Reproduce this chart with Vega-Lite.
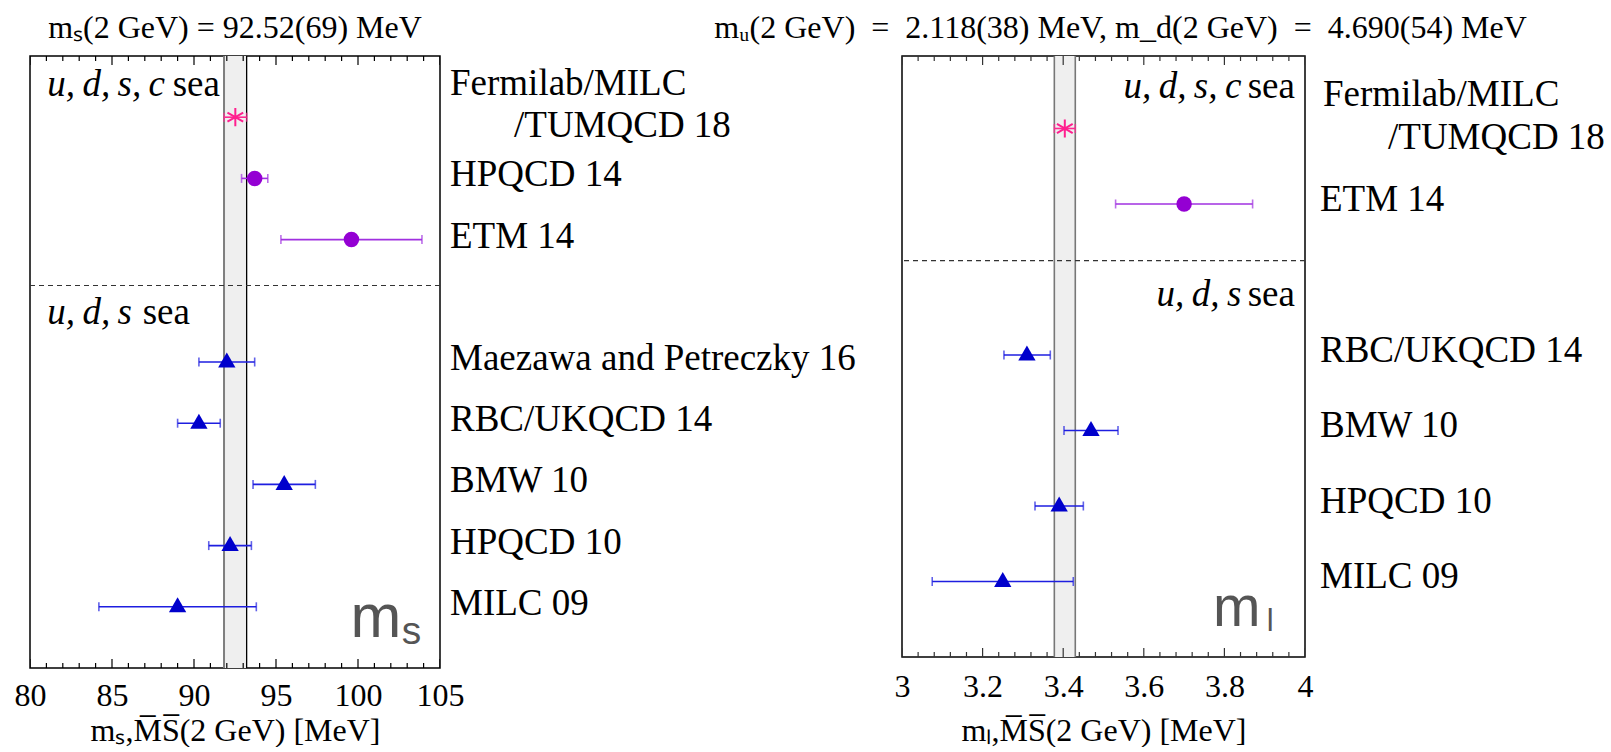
{
  "$schema": "https://vega.github.io/schema/vega-lite/v6.json",
  "background": "white",
  "padding": {"left": 13, "top": 11, "right": 0, "bottom": 0},
  "bounds": "flush",
  "spacing": 462,
  "config": {
    "font": "Liberation Serif",
    "view": {"stroke": "black", "strokeWidth": 1.5},
    "title": {"font": "Liberation Serif", "fontWeight": "normal", "color": "black"},
    "axis": {
      "labelOverlap": false, "labelFlush": false, "labelBound": false,
      "domain": false, "ticks": false, "grid": false,
      "labelFont": "Liberation Serif", "labelFontSize": 32, "labelColor": "black",
      "titleFont": "Liberation Serif", "titleFontSize": 32, "titleFontWeight": "normal", "titleColor": "black"
    }
  },
  "datasets": {
    "ms_pts": [
      {"name": "Fermilab/MILC/TUMQCD 18", "row": 1, "val": 92.52, "lo": 91.83, "hi": 93.21, "kind": "star"},
      {"name": "HPQCD 14", "row": 2, "val": 93.7, "lo": 92.9, "hi": 94.5, "kind": "circle"},
      {"name": "ETM 14", "row": 3, "val": 99.6, "lo": 95.3, "hi": 103.9, "kind": "circle"},
      {"name": "Maezawa and Petreczky 16", "row": 5, "val": 92.0, "lo": 90.3, "hi": 93.7, "kind": "triangle"},
      {"name": "RBC/UKQCD 14", "row": 6, "val": 90.3, "lo": 89.0, "hi": 91.6, "kind": "triangle"},
      {"name": "BMW 10", "row": 7, "val": 95.5, "lo": 93.6, "hi": 97.4, "kind": "triangle"},
      {"name": "HPQCD 10", "row": 8, "val": 92.2, "lo": 90.9, "hi": 93.5, "kind": "triangle"},
      {"name": "MILC 09", "row": 9, "val": 89.0, "lo": 84.2, "hi": 93.8, "kind": "triangle"}
    ],
    "ml_pts": [
      {"name": "Fermilab/MILC/TUMQCD 18", "row": 1, "val": 3.404, "lo": 3.378, "hi": 3.43, "kind": "star"},
      {"name": "ETM 14", "row": 2, "val": 3.70, "lo": 3.53, "hi": 3.87, "kind": "circle"},
      {"name": "RBC/UKQCD 14", "row": 4, "val": 3.31, "lo": 3.253, "hi": 3.368, "kind": "triangle"},
      {"name": "BMW 10", "row": 5, "val": 3.469, "lo": 3.402, "hi": 3.536, "kind": "triangle"},
      {"name": "HPQCD 10", "row": 6, "val": 3.39, "lo": 3.33, "hi": 3.45, "kind": "triangle"},
      {"name": "MILC 09", "row": 7, "val": 3.25, "lo": 3.075, "hi": 3.425, "kind": "triangle"}
    ],
    "ms_band": [{"lo": 91.83, "hi": 93.21}],
    "ml_band": [{"lo": 3.378, "hi": 3.43}],
    "ms_major": [{"t": 80}, {"t": 85}, {"t": 90}, {"t": 95}, {"t": 100}, {"t": 105}],
    "ms_minor": [{"t": 81}, {"t": 82}, {"t": 83}, {"t": 84}, {"t": 86}, {"t": 87}, {"t": 88}, {"t": 89}, {"t": 91}, {"t": 92}, {"t": 93}, {"t": 94}, {"t": 96}, {"t": 97}, {"t": 98}, {"t": 99}, {"t": 101}, {"t": 102}, {"t": 103}, {"t": 104}],
    "ml_major": [{"t": 3}, {"t": 3.2}, {"t": 3.4}, {"t": 3.6}, {"t": 3.8}, {"t": 4}],
    "ml_minor": [{"t": 3.04}, {"t": 3.08}, {"t": 3.12}, {"t": 3.16}, {"t": 3.24}, {"t": 3.28}, {"t": 3.32}, {"t": 3.36}, {"t": 3.44}, {"t": 3.48}, {"t": 3.52}, {"t": 3.56}, {"t": 3.64}, {"t": 3.68}, {"t": 3.72}, {"t": 3.76}, {"t": 3.84}, {"t": 3.88}, {"t": 3.92}, {"t": 3.96}]
  },
  "hconcat": [
    {
      "width": 410,
      "height": 612,
      "title": {"text": "mₛ(2 GeV) = 92.52(69) MeV", "fontSize": 32, "offset": 10},
      "data": {"name": "ms_pts"},
      "layer": [
        {
          "data": {"name": "ms_band"},
          "mark": {"type": "rect", "color": "#efefef"},
          "encoding": {
            "x": {"field": "lo", "type": "quantitative", "scale": {"domain": [80, 105], "nice": false, "zero": false},
              "axis": {"orient": "bottom", "values": [80, 85, 90, 95, 100, 105],
                "domain": false, "ticks": false, "grid": false,
                "labelPadding": 12, "labelOverlap": false, "labelFlush": false, "labelBound": false,
                "title": "mₛ,M̅S̅(2 GeV) [MeV]", "titlePadding": 4}},
            "x2": {"field": "hi"}
          }
        },
        {
          "data": {"name": "ms_major"},
          "mark": {"type": "tick", "orient": "vertical", "size": 18, "thickness": 1.2, "color": "black", "clip": true, "opacity": 1},
          "encoding": {"x": {"field": "t", "type": "quantitative"}, "y": {"datum": 0, "type": "quantitative", "scale": {"domain": [0, 10], "reverse": true, "nice": false, "zero": false}, "axis": null}}
        },
        {
          "data": {"name": "ms_major"},
          "mark": {"type": "tick", "orient": "vertical", "size": 18, "thickness": 1.2, "color": "black", "clip": true, "opacity": 1},
          "encoding": {"x": {"field": "t", "type": "quantitative"}, "y": {"datum": 10, "type": "quantitative", "axis": null}}
        },
        {
          "data": {"name": "ms_minor"},
          "mark": {"type": "tick", "orient": "vertical", "size": 10, "thickness": 1.2, "color": "black", "clip": true, "opacity": 1},
          "encoding": {"x": {"field": "t", "type": "quantitative"}, "y": {"datum": 0, "type": "quantitative", "axis": null}}
        },
        {
          "data": {"name": "ms_minor"},
          "mark": {"type": "tick", "orient": "vertical", "size": 10, "thickness": 1.2, "color": "black", "clip": true, "opacity": 1},
          "encoding": {"x": {"field": "t", "type": "quantitative"}, "y": {"datum": 10, "type": "quantitative", "axis": null}}
        },
        {
          "data": {"name": "ms_band"},
          "mark": {"type": "rule", "color": "#7f7f7f", "strokeWidth": 2},
          "encoding": {"x": {"field": "lo", "type": "quantitative"}}
        },
        {
          "data": {"name": "ms_band"},
          "mark": {"type": "rule", "color": "black", "strokeWidth": 1.3},
          "encoding": {"x": {"field": "hi", "type": "quantitative"}}
        },
        {
          "data": {"values": [{}]},
          "mark": {"type": "rule", "color": "#333333", "strokeWidth": 1.2, "strokeDash": [5, 4]},
          "encoding": {"y": {"datum": 3.75, "type": "quantitative", "axis": null}}
        },
        {
          "mark": {"type": "rule", "strokeWidth": 1.6},
          "encoding": {
            "x": {"field": "lo", "type": "quantitative"},
            "x2": {"field": "hi"},
            "y": {"field": "row", "type": "quantitative", "axis": null},
            "stroke": {"field": "kind", "type": "nominal", "scale": {"domain": ["star", "circle", "triangle"], "range": ["#ff2a92", "#a030e0", "#1e1ee0"]}, "legend": null}
          }
        },
        {
          "mark": {"type": "tick", "orient": "vertical", "size": 9, "thickness": 1.6},
          "encoding": {
            "x": {"field": "lo", "type": "quantitative"},
            "y": {"field": "row", "type": "quantitative", "axis": null},
            "fill": {"field": "kind", "type": "nominal", "scale": {"domain": ["star", "circle", "triangle"], "range": ["#ff2a92", "#a030e0", "#1e1ee0"]}, "legend": null}
          }
        },
        {
          "mark": {"type": "tick", "orient": "vertical", "size": 9, "thickness": 1.6},
          "encoding": {
            "x": {"field": "hi", "type": "quantitative"},
            "y": {"field": "row", "type": "quantitative", "axis": null},
            "fill": {"field": "kind", "type": "nominal", "legend": null}
          }
        },
        {
          "transform": [{"filter": "datum.kind === 'star'"}],
          "mark": {"type": "point", "shape": "M0,-1L0,1M-0.866,-0.5L0.866,0.5M-0.866,0.5L0.866,-0.5", "filled": false, "size": 330, "strokeWidth": 2, "opacity": 1},
          "encoding": {
            "x": {"field": "val", "type": "quantitative"},
            "y": {"field": "row", "type": "quantitative", "axis": null},
            "color": {"field": "kind", "type": "nominal", "scale": {"domain": ["star", "circle", "triangle"], "range": ["#ff1f8f", "#9400d3", "#0000cc"]}, "legend": null}
          }
        },
        {
          "transform": [{"filter": "datum.kind === 'circle'"}],
          "mark": {"type": "point", "shape": "circle", "filled": true, "size": 240, "opacity": 1},
          "encoding": {
            "x": {"field": "val", "type": "quantitative"},
            "y": {"field": "row", "type": "quantitative", "axis": null},
            "color": {"field": "kind", "type": "nominal", "legend": null}
          }
        },
        {
          "transform": [{"filter": "datum.kind === 'triangle'"}],
          "mark": {"type": "point", "shape": "triangle-up", "filled": true, "size": 300, "opacity": 1, "yOffset": -2},
          "encoding": {
            "x": {"field": "val", "type": "quantitative"},
            "y": {"field": "row", "type": "quantitative", "axis": null},
            "color": {"field": "kind", "type": "nominal", "legend": null}
          }
        },
        {
          "transform": [{"filter": "datum.kind !== 'star'"}],
          "mark": {"type": "text", "align": "left", "baseline": "middle", "font": "Liberation Serif", "fontSize": 37, "color": "black", "dx": 10, "dy": -3},
          "encoding": {
            "x": {"datum": 105, "type": "quantitative"},
            "y": {"field": "row", "type": "quantitative", "axis": null},
            "text": {"field": "name"}
          }
        },
        {
          "transform": [{"filter": "datum.kind === 'star'"}],
          "mark": {"type": "text", "text": "Fermilab/MILC", "align": "left", "baseline": "middle", "font": "Liberation Serif", "fontSize": 37, "color": "black", "dx": 10, "dy": -33},
          "encoding": {
            "x": {"datum": 105, "type": "quantitative"},
            "y": {"field": "row", "type": "quantitative", "axis": null}
          }
        },
        {
          "transform": [{"filter": "datum.kind === 'star'"}],
          "mark": {"type": "text", "text": "/TUMQCD 18", "align": "left", "baseline": "middle", "font": "Liberation Serif", "fontSize": 37, "color": "black", "dx": 74, "dy": 9},
          "encoding": {
            "x": {"datum": 105, "type": "quantitative"},
            "y": {"field": "row", "type": "quantitative", "axis": null}
          }
        },
        {
          "data": {"values": [{}]},
          "mark": {"type": "text", "text": "u,\u2009d,\u2009s,\u2009c", "align": "left", "baseline": "alphabetic", "font": "Liberation Serif", "fontStyle": "italic", "fontSize": 37, "color": "black"},
          "encoding": {"x": {"datum": 81.05, "type": "quantitative"}, "y": {"datum": 0.657, "type": "quantitative", "axis": null}}
        },
        {
          "data": {"values": [{}]},
          "mark": {"type": "text", "text": "sea", "align": "left", "baseline": "alphabetic", "font": "Liberation Serif", "fontSize": 37, "color": "black"},
          "encoding": {"x": {"datum": 88.7, "type": "quantitative"}, "y": {"datum": 0.657, "type": "quantitative", "axis": null}}
        },
        {
          "data": {"values": [{}]},
          "mark": {"type": "text", "text": "u,\u2009d,\u2009s", "align": "left", "baseline": "alphabetic", "font": "Liberation Serif", "fontStyle": "italic", "fontSize": 37, "color": "black"},
          "encoding": {"x": {"datum": 81.05, "type": "quantitative"}, "y": {"datum": 4.38, "type": "quantitative", "axis": null}}
        },
        {
          "data": {"values": [{}]},
          "mark": {"type": "text", "text": "sea", "align": "left", "baseline": "alphabetic", "font": "Liberation Serif", "fontSize": 37, "color": "black"},
          "encoding": {"x": {"datum": 86.87, "type": "quantitative"}, "y": {"datum": 4.38, "type": "quantitative", "axis": null}}
        },
        {
          "data": {"values": [{}]},
          "mark": {"type": "text", "text": "m", "align": "left", "baseline": "alphabetic", "font": "Liberation Sans", "fontSize": 61, "color": "#555555"},
          "encoding": {"x": {"datum": 99.55, "type": "quantitative"}, "y": {"datum": 9.5, "type": "quantitative", "axis": null}}
        },
        {
          "data": {"values": [{}]},
          "mark": {"type": "text", "text": "s", "align": "left", "baseline": "alphabetic", "font": "Liberation Sans", "fontSize": 39, "color": "#555555"},
          "encoding": {"x": {"datum": 102.67, "type": "quantitative"}, "y": {"datum": 9.61, "type": "quantitative", "axis": null}}
        }
      ]
    },
    {
      "width": 403,
      "height": 601,
      "title": {"text": "mᵤ(2 GeV)\u2002=\u20022.118(38) MeV, m_d(2 GeV)\u2002=\u20024.690(54) MeV", "fontSize": 32, "offset": 10, "dx": 17},
      "data": {"name": "ml_pts"},
      "layer": [
        {
          "data": {"name": "ml_band"},
          "mark": {"type": "rect", "color": "#efefef"},
          "encoding": {
            "x": {"field": "lo", "type": "quantitative", "scale": {"domain": [3, 4], "nice": false, "zero": false},
              "axis": {"orient": "bottom", "values": [3, 3.2, 3.4, 3.6, 3.8, 4], "format": "~g",
                "domain": false, "ticks": false, "grid": false,
                "labelPadding": 14, "labelOverlap": false, "labelFlush": false, "labelBound": false,
                "title": "mₗ,M̅S̅(2 GeV) [MeV]", "titlePadding": 13}},
            "x2": {"field": "hi"}
          }
        },
        {
          "data": {"name": "ml_major"},
          "mark": {"type": "tick", "orient": "vertical", "size": 18, "thickness": 1.2, "color": "#333333", "clip": true, "opacity": 1},
          "encoding": {"x": {"field": "t", "type": "quantitative"}, "y": {"datum": 0.04, "type": "quantitative", "scale": {"domain": [0.04, 8], "reverse": true, "nice": false, "zero": false}, "axis": null}}
        },
        {
          "data": {"name": "ml_major"},
          "mark": {"type": "tick", "orient": "vertical", "size": 18, "thickness": 1.2, "color": "#333333", "clip": true, "opacity": 1},
          "encoding": {"x": {"field": "t", "type": "quantitative"}, "y": {"datum": 8, "type": "quantitative", "axis": null}}
        },
        {
          "data": {"name": "ml_minor"},
          "mark": {"type": "tick", "orient": "vertical", "size": 10, "thickness": 1.2, "color": "#333333", "clip": true, "opacity": 1},
          "encoding": {"x": {"field": "t", "type": "quantitative"}, "y": {"datum": 0.04, "type": "quantitative", "axis": null}}
        },
        {
          "data": {"name": "ml_minor"},
          "mark": {"type": "tick", "orient": "vertical", "size": 10, "thickness": 1.2, "color": "#333333", "clip": true, "opacity": 1},
          "encoding": {"x": {"field": "t", "type": "quantitative"}, "y": {"datum": 8, "type": "quantitative", "axis": null}}
        },
        {
          "data": {"name": "ml_band"},
          "mark": {"type": "rule", "color": "#777777", "strokeWidth": 1.6},
          "encoding": {"x": {"field": "lo", "type": "quantitative"}}
        },
        {
          "data": {"name": "ml_band"},
          "mark": {"type": "rule", "color": "#777777", "strokeWidth": 1.6},
          "encoding": {"x": {"field": "hi", "type": "quantitative"}}
        },
        {
          "data": {"values": [{}]},
          "mark": {"type": "rule", "color": "#333333", "strokeWidth": 1.2, "strokeDash": [5, 4]},
          "encoding": {"y": {"datum": 2.75, "type": "quantitative", "axis": null}}
        },
        {
          "mark": {"type": "rule", "strokeWidth": 1.6},
          "encoding": {
            "x": {"field": "lo", "type": "quantitative"},
            "x2": {"field": "hi"},
            "y": {"field": "row", "type": "quantitative", "axis": null},
            "stroke": {"field": "kind", "type": "nominal", "scale": {"domain": ["star", "circle", "triangle"], "range": ["#ff2a92", "#a030e0", "#1e1ee0"]}, "legend": null}
          }
        },
        {
          "mark": {"type": "tick", "orient": "vertical", "size": 9, "thickness": 1.6},
          "encoding": {
            "x": {"field": "lo", "type": "quantitative"},
            "y": {"field": "row", "type": "quantitative", "axis": null},
            "fill": {"field": "kind", "type": "nominal", "scale": {"domain": ["star", "circle", "triangle"], "range": ["#ff2a92", "#a030e0", "#1e1ee0"]}, "legend": null}
          }
        },
        {
          "mark": {"type": "tick", "orient": "vertical", "size": 9, "thickness": 1.6},
          "encoding": {
            "x": {"field": "hi", "type": "quantitative"},
            "y": {"field": "row", "type": "quantitative", "axis": null},
            "fill": {"field": "kind", "type": "nominal", "legend": null}
          }
        },
        {
          "transform": [{"filter": "datum.kind === 'star'"}],
          "mark": {"type": "point", "shape": "M0,-1L0,1M-0.866,-0.5L0.866,0.5M-0.866,0.5L0.866,-0.5", "filled": false, "size": 330, "strokeWidth": 2, "opacity": 1},
          "encoding": {
            "x": {"field": "val", "type": "quantitative"},
            "y": {"field": "row", "type": "quantitative", "axis": null},
            "color": {"field": "kind", "type": "nominal", "scale": {"domain": ["star", "circle", "triangle"], "range": ["#ff1f8f", "#9400d3", "#0000cc"]}, "legend": null}
          }
        },
        {
          "transform": [{"filter": "datum.kind === 'circle'"}],
          "mark": {"type": "point", "shape": "circle", "filled": true, "size": 240, "opacity": 1},
          "encoding": {
            "x": {"field": "val", "type": "quantitative"},
            "y": {"field": "row", "type": "quantitative", "axis": null},
            "color": {"field": "kind", "type": "nominal", "legend": null}
          }
        },
        {
          "transform": [{"filter": "datum.kind === 'triangle'"}],
          "mark": {"type": "point", "shape": "triangle-up", "filled": true, "size": 300, "opacity": 1, "yOffset": -2},
          "encoding": {
            "x": {"field": "val", "type": "quantitative"},
            "y": {"field": "row", "type": "quantitative", "axis": null},
            "color": {"field": "kind", "type": "nominal", "legend": null}
          }
        },
        {
          "transform": [{"filter": "datum.kind !== 'star'"}],
          "mark": {"type": "text", "align": "left", "baseline": "middle", "font": "Liberation Serif", "fontSize": 37, "color": "black", "dx": 15, "dy": -4},
          "encoding": {
            "x": {"datum": 4, "type": "quantitative"},
            "y": {"field": "row", "type": "quantitative", "axis": null},
            "text": {"field": "name"}
          }
        },
        {
          "transform": [{"filter": "datum.kind === 'star'"}],
          "mark": {"type": "text", "text": "Fermilab/MILC", "align": "left", "baseline": "middle", "font": "Liberation Serif", "fontSize": 37, "color": "black", "dx": 18, "dy": -33},
          "encoding": {
            "x": {"datum": 4, "type": "quantitative"},
            "y": {"field": "row", "type": "quantitative", "axis": null}
          }
        },
        {
          "transform": [{"filter": "datum.kind === 'star'"}],
          "mark": {"type": "text", "text": "/TUMQCD 18", "align": "left", "baseline": "middle", "font": "Liberation Serif", "fontSize": 37, "color": "black", "dx": 83, "dy": 10},
          "encoding": {
            "x": {"datum": 4, "type": "quantitative"},
            "y": {"field": "row", "type": "quantitative", "axis": null}
          }
        },
        {
          "data": {"values": [{}]},
          "mark": {"type": "text", "text": "u,\u2009d,\u2009s,\u2009c", "align": "right", "baseline": "alphabetic", "font": "Liberation Serif", "fontStyle": "italic", "fontSize": 37, "color": "black"},
          "encoding": {"x": {"datum": 3.842, "type": "quantitative"}, "y": {"datum": 0.6, "type": "quantitative", "axis": null}}
        },
        {
          "data": {"values": [{}]},
          "mark": {"type": "text", "text": "sea", "align": "right", "baseline": "alphabetic", "font": "Liberation Serif", "fontSize": 37, "color": "black"},
          "encoding": {"x": {"datum": 3.975, "type": "quantitative"}, "y": {"datum": 0.6, "type": "quantitative", "axis": null}}
        },
        {
          "data": {"values": [{}]},
          "mark": {"type": "text", "text": "u,\u2009d,\u2009s", "align": "right", "baseline": "alphabetic", "font": "Liberation Serif", "fontStyle": "italic", "fontSize": 37, "color": "black"},
          "encoding": {"x": {"datum": 3.842, "type": "quantitative"}, "y": {"datum": 3.35, "type": "quantitative", "axis": null}}
        },
        {
          "data": {"values": [{}]},
          "mark": {"type": "text", "text": "sea", "align": "right", "baseline": "alphabetic", "font": "Liberation Serif", "fontSize": 37, "color": "black"},
          "encoding": {"x": {"datum": 3.975, "type": "quantitative"}, "y": {"datum": 3.35, "type": "quantitative", "axis": null}}
        },
        {
          "data": {"values": [{}]},
          "mark": {"type": "text", "text": "m", "align": "left", "baseline": "alphabetic", "font": "Liberation Sans", "fontSize": 57, "color": "#555555"},
          "encoding": {"x": {"datum": 3.772, "type": "quantitative"}, "y": {"datum": 7.59, "type": "quantitative", "axis": null}}
        },
        {
          "data": {"values": [{}]},
          "mark": {"type": "text", "text": "l", "align": "left", "baseline": "alphabetic", "font": "Liberation Sans", "fontSize": 31, "color": "#555555"},
          "encoding": {"x": {"datum": 3.905, "type": "quantitative"}, "y": {"datum": 7.65, "type": "quantitative", "axis": null}}
        }
      ]
    }
  ]
}
